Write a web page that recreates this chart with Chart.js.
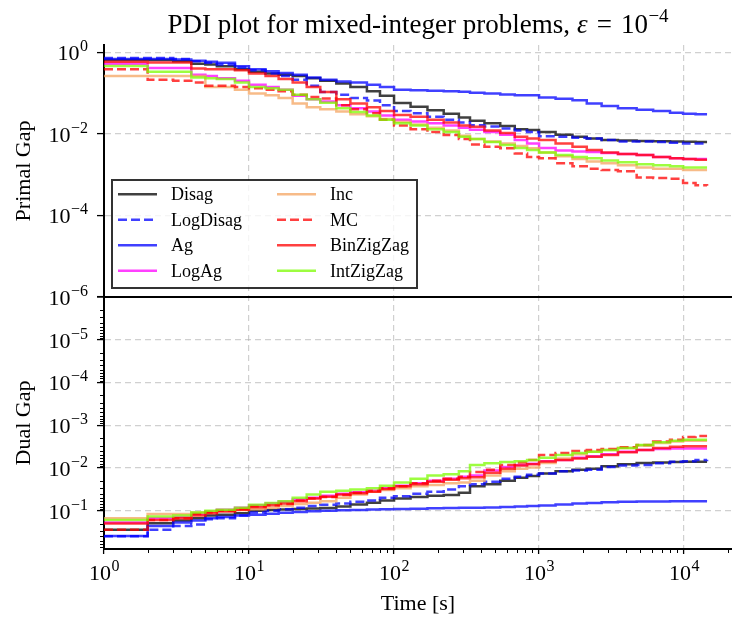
<!DOCTYPE html>
<html>
<head>
<meta charset="utf-8">
<script src="https://cdn.jsdelivr.net/npm/chart.js@4.4.1/dist/chart.umd.min.js"></script>
<style>
html,body{margin:0;padding:0;background:#fff;}
#c{display:block;}
</style>
</head>
<body>
<canvas id="c" width="732" height="619"></canvas>
<script>
// ---------------- data ----------------
const times = [1, 2, 3, 4, 5, 6, 8, 10, 13, 16, 20, 25, 31, 40, 50, 65, 80, 100, 130, 170, 220, 280, 334, 420, 540, 680, 827, 1000, 1300, 1700, 2133, 2700, 3500, 4710, 6120, 8000, 9840, 12000, 14400];

const seriesNames = ['Disag', 'LogDisag', 'Ag', 'LogAg', 'Inc', 'MC', 'BinZigZag', 'IntZigZag'];

// Primal gap
const primalDisag = [0.64,0.64,0.60,0.52,0.50,0.45,0.38,0.33, 0.30,0.28,0.26,0.23,0.20,0.17,0.14,0.11,0.085,0.057, 0.046,0.038,0.031,0.025,0.021,0.018,0.0155,0.013,0.0123,0.011, 0.0095,0.0085,0.0077,0.007,0.0068,0.0067,0.0066,0.0065,0.0064,0.0063,0.0063];
const primalLogDisag = [0.72,0.72,0.68,0.60,0.55,0.50,0.42,0.36, 0.30,0.26,0.21,0.15,0.105,0.09,0.075,0.065,0.05,0.036, 0.032,0.026,0.022,0.019,0.0163,0.015,0.0135,0.012,0.011,0.0087, 0.0085,0.008,0.0077,0.007,0.0065,0.0065,0.0063,0.006,0.0058,0.0058,0.0057];
const primalAg = [0.68,0.68,0.66,0.62,0.58,0.55,0.45,0.38, 0.34,0.31,0.28,0.24,0.21,0.19,0.18,0.16,0.14,0.12, 0.117,0.113,0.11,0.107,0.102,0.097,0.092,0.088,0.088,0.078, 0.072,0.066,0.055,0.048,0.042,0.039,0.036,0.033,0.031,0.030,0.030];
const primalLogAg = [0.52,0.41,0.41,0.28,0.26,0.23,0.20,0.16, 0.14,0.12,0.085,0.07,0.062,0.05,0.042,0.035,0.028,0.022, 0.02,0.018,0.016,0.014,0.0125,0.011,0.0095,0.007,0.0058,0.0045, 0.0039,0.0037,0.0036,0.0034,0.0032,0.003,0.0027,0.0025,0.0024,0.0024,0.0024];
const primalInc = [0.26,0.26,0.26,0.26,0.14,0.14,0.12,0.097, 0.088,0.075,0.055,0.045,0.04,0.035,0.03,0.027,0.023,0.0196, 0.017,0.014,0.012,0.009,0.0075,0.0065,0.0058,0.005,0.0044,0.0035, 0.0028,0.0024,0.0021,0.0019,0.0017,0.0015,0.0014,0.0014,0.0013,0.0013,0.0013];
const primalMC = [0.38,0.21,0.20,0.18,0.15,0.15,0.14,0.13, 0.12,0.11,0.09,0.08,0.073,0.05,0.04,0.032,0.022,0.016, 0.013,0.011,0.0093,0.0075,0.0055,0.0048,0.0044,0.0033,0.0027,0.0025, 0.0019,0.0016,0.0014,0.0013,0.0012,0.00085,0.00082,0.00079,0.00062,0.00055,0.00053];
const primalBinZigZag = [0.58,0.56,0.56,0.40,0.38,0.38,0.36,0.30, 0.26,0.22,0.18,0.14,0.105,0.07,0.055,0.045,0.036,0.029, 0.026,0.022,0.019,0.016,0.0148,0.012,0.0105,0.0085,0.0077,0.007, 0.0058,0.0048,0.004,0.0035,0.0032,0.003,0.0027,0.0025,0.0024,0.0023,0.0023];
const primalIntZigZag = [0.46,0.33,0.33,0.24,0.23,0.22,0.18,0.14, 0.13,0.12,0.09,0.07,0.058,0.042,0.034,0.028,0.022,0.018, 0.016,0.013,0.011,0.0085,0.0075,0.0063,0.0053,0.0045,0.004,0.0035, 0.003,0.0027,0.0025,0.0022,0.002,0.0018,0.0017,0.0016,0.0015,0.0015,0.0015];

// Dual gap
const dualDisag = [0.28,0.196,0.17,0.15,0.13,0.125,0.115,0.10, 0.097,0.094,0.092,0.089,0.087,0.08,0.072,0.065,0.058,0.052, 0.048,0.045,0.043,0.038,0.027,0.024,0.02,0.017,0.0155,0.0135, 0.012,0.011,0.0105,0.0092,0.0082,0.0077,0.0075,0.0073,0.0072,0.0072,0.0072];
const dualLogDisag = [0.40,0.28,0.23,0.21,0.16,0.15,0.13,0.11, 0.10,0.093,0.085,0.078,0.073,0.068,0.062,0.058,0.05,0.046, 0.04,0.036,0.032,0.027,0.024,0.021,0.018,0.016,0.0145,0.0135, 0.012,0.0115,0.011,0.0095,0.0088,0.0085,0.0078,0.0072,0.007,0.0065,0.0064];
const dualAg = [0.39,0.23,0.19,0.17,0.15,0.14,0.13,0.124, 0.118,0.112,0.107,0.104,0.10,0.098,0.096,0.094,0.093,0.092, 0.09,0.088,0.087,0.086,0.085,0.084,0.082,0.08,0.078,0.076, 0.072,0.068,0.066,0.064,0.062,0.061,0.061,0.06,0.06,0.06,0.06];
const dualLogAg = [0.19,0.15,0.14,0.12,0.105,0.095,0.085,0.075, 0.068,0.062,0.055,0.05,0.045,0.04,0.037,0.034,0.03,0.026, 0.023,0.02,0.018,0.016,0.015,0.0115,0.0095,0.0085,0.008,0.007, 0.0065,0.0058,0.0053,0.0048,0.0042,0.0038,0.0036,0.0035,0.0035,0.0035,0.0035];
const dualInc = [0.15,0.12,0.12,0.11,0.105,0.10,0.097,0.093, 0.085,0.078,0.07,0.065,0.06,0.05,0.042,0.036,0.033,0.03, 0.027,0.025,0.023,0.022,0.02,0.015,0.012,0.0105,0.0098,0.0077, 0.006,0.0048,0.0042,0.0038,0.0034,0.003,0.0026,0.0024,0.0023,0.0023,0.0023];
const dualMC = [0.28,0.165,0.15,0.12,0.11,0.10,0.09,0.08, 0.075,0.07,0.058,0.052,0.048,0.043,0.038,0.034,0.03,0.027, 0.023,0.02,0.018,0.016,0.0125,0.011,0.0085,0.0075,0.0065,0.005, 0.0045,0.004,0.0038,0.0036,0.0033,0.0029,0.0024,0.0022,0.0019,0.0018,0.0018];
const dualBinZigZag = [0.20,0.165,0.15,0.13,0.115,0.105,0.095,0.083, 0.075,0.068,0.06,0.052,0.047,0.042,0.039,0.036,0.031,0.027, 0.024,0.021,0.019,0.0175,0.0165,0.013,0.0105,0.0088,0.0082,0.0071, 0.0065,0.006,0.0055,0.005,0.0043,0.0038,0.0034,0.0032,0.0031,0.0031,0.0031];
const dualIntZigZag = [0.165,0.138,0.13,0.11,0.10,0.095,0.085,0.073, 0.066,0.06,0.05,0.042,0.036,0.034,0.032,0.03,0.026,0.022, 0.018,0.015,0.014,0.012,0.0085,0.0078,0.0073,0.007,0.0065,0.0058, 0.005,0.0045,0.0042,0.0038,0.0034,0.0029,0.0025,0.0023,0.0022,0.0022,0.0022];

// tick values
const xTickValues = [1, 10, 100, 1000, 10000];
const primalTickValues = [1e-6, 1e-4, 1e-2, 1];
const dualTickValues = [1e-6, 1e-5, 1e-4, 1e-3, 1e-2, 1e-1];
const minorMultipliers = [2, 3, 4, 5, 6, 7, 8, 9];

// title pieces: [text, style, raised]
const titleParts = [['PDI plot for mixed-integer problems,', 'normal', false], ['\u03B5', 'italic', false], ['=', 'normal', false], ['10', 'normal', false], ['\u22124', 'normal', true]];

const primalSeries = [primalDisag, primalLogDisag, primalAg, primalLogAg, primalInc, primalMC, primalBinZigZag, primalIntZigZag];
const dualSeries = [dualDisag, dualLogDisag, dualAg, dualLogAg, dualInc, dualMC, dualBinZigZag, dualIntZigZag];

// ---------------- styles ----------------
const FONT = "'Liberation Serif', 'Times New Roman', serif";
const lineColors = ['rgba(0,0,0,0.75)', 'rgba(0,0,255,0.75)', 'rgba(0,0,255,0.75)', 'rgba(255,0,255,0.75)',
                    'rgba(244,164,96,0.75)', 'rgba(255,0,0,0.75)', 'rgba(255,0,0,0.75)', 'rgba(124,252,0,0.75)'];
const lineDashed = [false, true, false, false, false, true, false, false];
const GRID = 'rgba(170,170,170,0.55)';
const NONE = 'rgba(0,0,0,0)';

const isVal = (v, ref) => Math.abs(Math.log10(v) - Math.log10(ref)) < 1e-6;
const expText = v => String(Math.round(Math.log10(v))).replace('-', '\u2212');

function makeDatasets(series, axis) {
  return series.map((vals, i) => ({
    label: seriesNames[i],
    data: times.map((t, j) => ({x: t, y: vals[j]})),
    yAxisID: axis,
    xAxisID: 'x',
    borderColor: lineColors[i],
    backgroundColor: lineColors[i],
    borderWidth: 2.5,
    borderDash: lineDashed[i] ? [9, 4] : [],
    stepped: true,
    pointRadius: 0,
    fill: false,
    order: -i
  }));
}

// ---------------- plugins ----------------
const minorTicks = {
  id: 'minorTicks',
  afterDraw(chart) {
    const ctx = chart.ctx;
    const xs = chart.scales.x, yd = chart.scales.yDual;
    ctx.save();
    ctx.strokeStyle = '#000';
    ctx.lineWidth = 1;
    xTickValues.forEach(d => minorMultipliers.forEach(k => {
      const v = k * d;
      if (v > xs.max) return;
      const px = Math.round(xs.getPixelForValue(v)) + 0.5;
      ctx.beginPath(); ctx.moveTo(px, xs.top); ctx.lineTo(px, xs.top + 4); ctx.stroke();
    }));
    dualTickValues.forEach(d => minorMultipliers.forEach(k => {
      const v = k * d;
      if (v > yd.max) return;
      const py = Math.round(yd.getPixelForValue(v)) + 0.5;
      ctx.beginPath(); ctx.moveTo(yd.right, py); ctx.lineTo(yd.right - 4, py); ctx.stroke();
    }));
    ctx.restore();
  }
};

// power-of-ten tick labels (10 with a raised exponent), placed with the scales
const powTickLabels = {
  id: 'powTickLabels',
  afterDraw(chart) {
    const ctx = chart.ctx;
    const main = '22px ' + FONT, small = '16px ' + FONT;
    ctx.save();
    ctx.fillStyle = '#000';
    ctx.textBaseline = 'alphabetic';
    const xs = chart.scales.x;
    xTickValues.forEach(v => {
      const px = xs.getPixelForValue(v);
      const e = expText(v);
      ctx.font = main; const w1 = ctx.measureText('10').width;
      ctx.font = small; const w2 = ctx.measureText(e).width;
      const x0 = px - (w1 + w2) / 2;
      ctx.textAlign = 'left';
      ctx.font = main; ctx.fillText('10', x0, xs.top + 31);
      ctx.font = small; ctx.fillText(e, x0 + w1 + 0.5, xs.top + 22);
    });
    [[chart.scales.yPrimal, primalTickValues], [chart.scales.yDual, dualTickValues.slice(1)]].forEach(([s, vals]) => {
      vals.forEach(v => {
        const py = s.getPixelForValue(v);
        const e = expText(v);
        ctx.textAlign = 'right';
        ctx.font = small; const w2 = ctx.measureText(e).width;
        ctx.fillText(e, s.right - 16, py - 1);
        ctx.font = main; ctx.fillText('10', s.right - 16.5 - w2, py + 8);
      });
    });
    ctx.restore();
  }
};

const mathTitle = {
  id: 'mathTitle',
  afterDraw(chart) {
    const ctx = chart.ctx;
    const a = chart.chartArea;
    const big = 27, sup = 19, base = 32.5;
    const gaps = [7, 9, 9, 0.5, 0];
    ctx.save();
    ctx.fillStyle = '#000';
    ctx.textAlign = 'left';
    ctx.textBaseline = 'alphabetic';
    const fontOf = p => (p[1] === 'italic' ? 'italic ' : '') + (p[2] ? sup : big) + 'px ' + FONT;
    let total = 0;
    const widths = titleParts.map((p, i) => { ctx.font = fontOf(p); const w = ctx.measureText(p[0]).width; total += w + gaps[i]; return w; });
    let x = (a.left + a.right) / 2 - total / 2;
    titleParts.forEach((p, i) => {
      ctx.font = fontOf(p);
      ctx.fillText(p[0], x, p[2] ? base - 11 : base);
      x += widths[i] + gaps[i];
    });
    ctx.restore();
  }
};

const boxLegend = {
  id: 'boxLegend',
  afterDraw(chart) {
    const ctx = chart.ctx;
    const L = 112, T = 180, W = 305, H = 108;
    ctx.save();
    ctx.fillStyle = 'rgba(255,255,255,0.8)';
    ctx.fillRect(L, T, W, H);
    ctx.strokeStyle = 'rgba(0,0,0,0.8)';
    ctx.lineWidth = 2;
    ctx.strokeRect(L, T, W, H);
    const items = chart.data.datasets.filter(d => d.yAxisID === 'yPrimal');
    items.forEach((ds, i) => {
      const col = Math.floor(i / 4), row = i % 4;
      const x0 = L + 6 + col * 159;
      const y = T + 14.3 + row * 25.5;
      ctx.strokeStyle = ds.borderColor;
      ctx.lineWidth = ds.borderWidth;
      ctx.setLineDash(ds.borderDash);
      ctx.beginPath(); ctx.moveTo(x0, y); ctx.lineTo(x0 + 39, y); ctx.stroke();
      ctx.setLineDash([]);
      ctx.fillStyle = '#000';
      ctx.font = '18px ' + FONT;
      ctx.textAlign = 'left';
      ctx.textBaseline = 'middle';
      ctx.fillText(ds.label, x0 + 53, y + 1);
    });
    ctx.restore();
  }
};

// ---------------- chart ----------------
Chart.defaults.font.family = FONT;
Chart.defaults.color = '#000';

new Chart(document.getElementById('c'), {
  type: 'line',
  data: {
    datasets: [...makeDatasets(primalSeries, 'yPrimal'), ...makeDatasets(dualSeries, 'yDual')]
  },
  options: {
    responsive: false,
    animation: false,
    events: [],
    layout: {padding: {top: 45, left: 0, right: 0, bottom: 0}},
    plugins: {
      legend: {display: false},
      tooltip: {enabled: false},
      title: {display: false}
    },
    scales: {
      x: {
        type: 'logarithmic',
        position: 'bottom',
        min: 1,
        max: 21400,
        afterBuildTicks: s => { s.ticks = xTickValues.map(v => ({value: v})); },
        afterFit: s => { s.height = 70; },
        ticks: {display: false, autoSkip: false, maxRotation: 0, minRotation: 0},
        grid: {
          color: c => (c.tick && c.tick.value > 1.5) ? GRID : NONE,
          lineWidth: 1.2, tickColor: '#000', tickLength: 5, tickWidth: 1.3
        },
        border: {display: true, color: '#000', width: 2, dash: [6, 4]},
        title: {display: true, text: 'Time [s]', font: {size: 22}, color: '#000', padding: {top: 0, bottom: 1.4}}
      },
      yDual: {
        type: 'logarithmic',
        position: 'left',
        stack: 'panels',
        stackWeight: 1,
        reverse: true,
        min: 1e-6,
        max: 0.79,
        afterBuildTicks: s => { s.ticks = dualTickValues.map(v => ({value: v})); },
        afterFit: s => { s.width = 104; },
        ticks: {display: false, autoSkip: false},
        grid: {
          color: c => (c.tick && !isVal(c.tick.value, 1e-6)) ? GRID : NONE,
          lineWidth: 1.2, tickColor: '#000', tickLength: 7, tickWidth: 1.3
        },
        border: {display: true, color: '#000', width: 2, dash: [6, 4]},
        title: {display: true, text: 'Dual Gap', font: {size: 22}, color: '#000', padding: {top: 11.2, bottom: 0}}
      },
      yPrimal: {
        type: 'logarithmic',
        position: 'left',
        stack: 'panels',
        stackWeight: 1,
        min: 1e-6,
        max: 1.5,
        afterBuildTicks: s => { s.ticks = primalTickValues.map(v => ({value: v})); },
        afterFit: s => { s.width = 104; },
        ticks: {display: false, autoSkip: false},
        grid: {
          color: c => (c.tick && isVal(c.tick.value, 1e-6)) ? '#000' : GRID,
          lineWidth: c => (c.tick && isVal(c.tick.value, 1e-6)) ? 2 : 1.2,
          tickColor: '#000', tickLength: 7, tickWidth: 1.3
        },
        border: {display: true, color: '#000', width: 2, dash: c => (c.tick && isVal(c.tick.value, 1e-6)) ? [] : [6, 4]},
        title: {display: true, text: 'Primal Gap', font: {size: 22}, color: '#000', padding: {top: 11.2, bottom: 0}}
      }
    }
  },
  plugins: [minorTicks, powTickLabels, mathTitle, boxLegend]
});
</script>
</body>
</html>
